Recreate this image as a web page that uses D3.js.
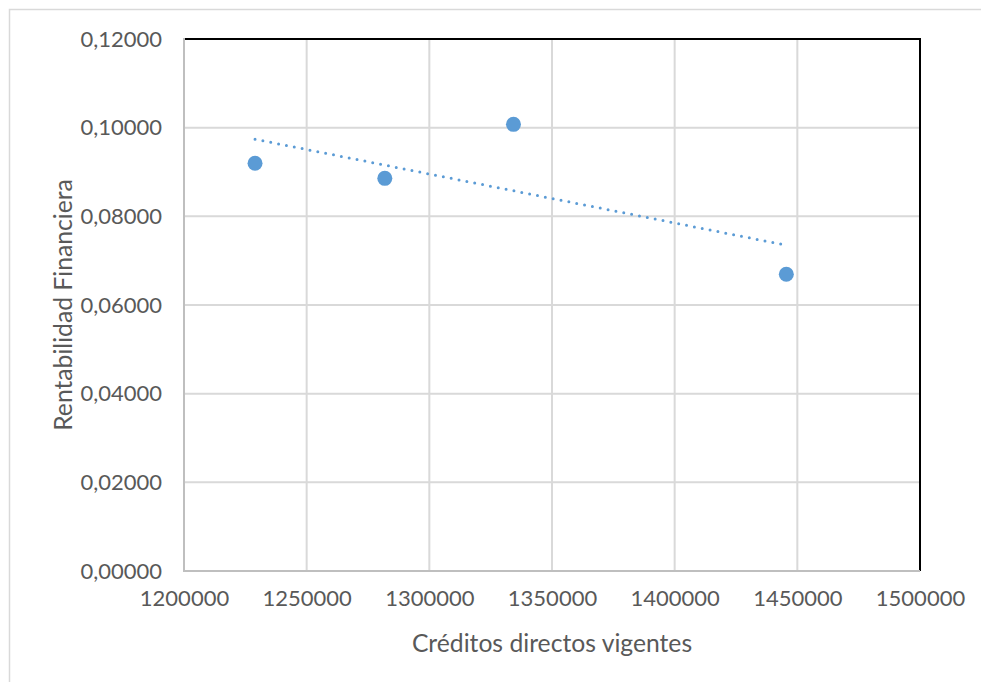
<!DOCTYPE html>
<html><head><meta charset="utf-8">
<script src="https://cdn.jsdelivr.net/npm/d3@7"></script>
<style>body{margin:0;background:#fff}svg{display:block}text{font-family:Lato,"Open Sans",sans-serif;fill:#595959}</style>
</head><body><svg id="c" width="981" height="682"></svg>
<script>
const creditos = [1228956, 1281851, 1334298, 1445514];
const rentabilidad = [0.09196, 0.08857, 0.10075, 0.06692];
const xTicks = [1200000, 1250000, 1300000, 1350000, 1400000, 1450000, 1500000];
const yTicks = [0, 0.02, 0.04, 0.06, 0.08, 0.10, 0.12];
const xTitle = "Créditos directos vigentes";
const yTitle = "Rentabilidad Financiera";

const svg = d3.select("#c");
const L = 184, R = 920, T = 39, B = 571;
const x = d3.scaleLinear().domain([1200000, 1500000]).range([L, R]);
const y = d3.scaleLinear().domain([0, 0.12]).range([B, T]);

svg.append("rect").attr("x", 9.5).attr("y", 9.5).attr("width", 990).attr("height", 690)
  .attr("fill", "#fff").attr("stroke", "#d9d9d9").attr("stroke-width", 1.5);

// gridlines
svg.append("g").selectAll("line").data(xTicks.slice(1, -1)).join("line")
  .attr("x1", d => x(d)).attr("x2", d => x(d)).attr("y1", T).attr("y2", B)
  .attr("stroke", "#d9d9d9").attr("stroke-width", 2);
svg.append("g").selectAll("line").data(yTicks.slice(1, -1)).join("line")
  .attr("y1", d => y(d)).attr("y2", d => y(d)).attr("x1", L).attr("x2", R)
  .attr("stroke", "#d9d9d9").attr("stroke-width", 2);

// plot borders
svg.append("line").attr("x1", L).attr("x2", R + 1).attr("y1", T).attr("y2", T).attr("stroke", "#000").attr("stroke-width", 2);
svg.append("line").attr("x1", R).attr("x2", R).attr("y1", T).attr("y2", B).attr("stroke", "#000").attr("stroke-width", 2);
svg.append("line").attr("x1", L).attr("x2", L).attr("y1", T - 1).attr("y2", B).attr("stroke", "#bfbfbf").attr("stroke-width", 2);
svg.append("line").attr("x1", L - 1).attr("x2", R).attr("y1", B).attr("y2", B).attr("stroke", "#bfbfbf").attr("stroke-width", 2);

// axes labels via d3 axes
const fmtY = d => d3.format(".5f")(d).replace(".", ",");
const gy = svg.append("g").attr("transform", `translate(${L},0)`)
  .call(d3.axisLeft(y).tickValues(yTicks).tickFormat(fmtY).tickSize(0).tickPadding(22));
gy.select(".domain").remove();
gy.selectAll("text").attr("font-size", 22).style("font-family", "Lato").attr("fill", "#595959");

const gx = svg.append("g").attr("transform", `translate(0,${B})`)
  .call(d3.axisBottom(x).tickValues(xTicks).tickFormat(d3.format("d")).tickSize(0).tickPadding(19));
gx.select(".domain").remove();
gx.selectAll("text").attr("font-size", 22).style("font-family", "Lato").attr("fill", "#595959");

// titles
svg.append("text").attr("x", 552).attr("y", 642).attr("text-anchor", "middle")
  .attr("dominant-baseline", "central").attr("font-size", 24.7).text(xTitle);
svg.append("text").attr("transform", "translate(62,305) rotate(-90)").attr("text-anchor", "middle")
  .attr("dominant-baseline", "central").attr("font-size", 24.7).text(yTitle);

// trendline (least squares)
const mx = d3.mean(creditos), my = d3.mean(rentabilidad);
const slope = d3.sum(creditos, (c, i) => (c - mx) * (rentabilidad[i] - my)) / d3.sum(creditos, c => (c - mx) ** 2);
const icpt = my - slope * mx;
const ext = d3.extent(creditos);
svg.append("line").attr("x1", x(ext[0])).attr("x2", x(ext[1]))
  .attr("y1", y(icpt + slope * ext[0])).attr("y2", y(icpt + slope * ext[1]))
  .attr("stroke", "#5b9bd5").attr("stroke-width", 3).attr("stroke-linecap", "round")
  .attr("stroke-dasharray", "0 8");

// points
svg.append("g").selectAll("circle").data(creditos).join("circle")
  .attr("cx", d => x(d)).attr("cy", (d, i) => y(rentabilidad[i])).attr("r", 7.5)
  .attr("fill", "#5b9bd5");
</script></body></html>
